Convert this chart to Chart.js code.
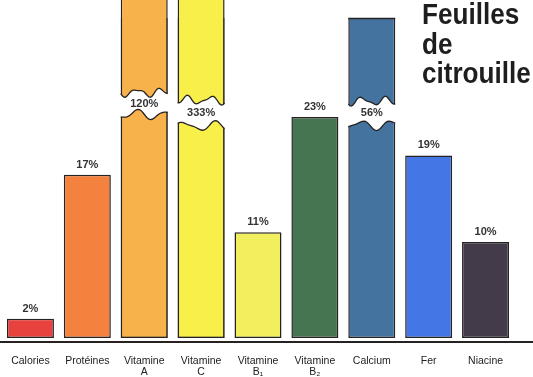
<!DOCTYPE html>
<html>
<head>
<meta charset="utf-8">
<script src="https://cdn.jsdelivr.net/npm/chart.js@4"></script>
<style>
  body { margin: 0; background: #ffffff; }
  #wrap { width: 533px; height: 377px; position: relative; }
</style>
</head>
<body>
<div id="wrap"><canvas id="bars"></canvas></div>
<script>
// data (% of daily needs)
const categories = ["Calories", "Protéines", ["Vitamine", "A"], ["Vitamine", "C"], ["Vitamine", "B₁"], ["Vitamine", "B₂"], "Calcium", "Fer", "Niacine"];
const values = [2, 17, 120, 333, 11, 23, 56, 19, 10];
const bar_colours = ["#e8423f", "#f5813f", "#f7b24b", "#f8ef4a", "#f2ef5e", "#467551", "#44739f", "#4576e6", "#433a4a"];
const title_lines = ["Feuilles", "de", "citrouille"];

const FONT = "'Liberation Sans', Arial, Helvetica, sans-serif";
const INK = "#262222";

// bars that leave the top of the picture (not clipped to the chart area)
const runs_off_top = [false, false, true, true, false, false, false, false, false];

// break marks drawn across the tall bars, centre given in scale units
const breakPlugin = {
  id: "breaks",
  afterDatasetsDraw(chart, args, opts) {
    const ctx = chart.ctx;
    const yScale = chart.scales.y;
    const meta = chart.getDatasetMeta(0);
    const top = chart.chartArea.top;
    ctx.save();
    // top edge for the bar cut at the chart area
    meta.data.forEach((bar, i) => {
      if (values[i] > yScale.max && !runs_off_top[i]) {
        ctx.strokeStyle = INK;
        ctx.lineWidth = 1.5;
        ctx.beginPath();
        ctx.moveTo(bar.x - bar.width / 2, top + 0.5);
        ctx.lineTo(bar.x + bar.width / 2, top + 0.5);
        ctx.stroke();
      }
    });
    opts.cuts.forEach(cut => {
      const bar = meta.data[cut.index];
      const yc = yScale.getPixelForValue(cut.at);
      const x0 = bar.x - bar.width / 2;
      const x1 = bar.x + bar.width / 2;
      const n = 30;
      const upper = t => yc - cut.gap / 2 + 3.5 * Math.sin(t * Math.PI * 4 + cut.ph) + 1.5 * Math.sin(t * Math.PI * 7);
      const lower = t => yc + cut.gap / 2 + 4 * Math.sin(t * Math.PI * 3 + cut.ph + 1.2) - 1.5 * Math.cos(t * Math.PI * 5);
      ctx.fillStyle = "#ffffff";
      ctx.beginPath();
      ctx.moveTo(x0 - 3, upper(0));
      for (let k = 0; k <= n; k++) {
        const t = k / n;
        ctx.lineTo(x0 + (x1 - x0) * t, upper(t));
      }
      ctx.lineTo(x1 + 3, upper(1));
      ctx.lineTo(x1 + 3, lower(1));
      for (let k = n; k >= 0; k--) {
        const t = k / n;
        ctx.lineTo(x0 + (x1 - x0) * t, lower(t));
      }
      ctx.lineTo(x0 - 3, lower(0));
      ctx.closePath();
      ctx.fill();
      ctx.strokeStyle = INK;
      ctx.lineWidth = 1.3;
      [upper, lower].forEach(edge => {
        ctx.beginPath();
        for (let k = 0; k <= n; k++) {
          const t = k / n;
          const px = x0 + (x1 - x0) * t;
          if (k === 0) ctx.moveTo(px, edge(t)); else ctx.lineTo(px, edge(t));
        }
        ctx.stroke();
      });
      ctx.fillStyle = "#333333";
      ctx.font = "bold 11px " + FONT;
      ctx.textAlign = "center";
      ctx.textBaseline = "middle";
      ctx.fillText(values[cut.index] + "%", bar.x, yc);
    });
    ctx.restore();
  }
};

// % labels above the ordinary bars, axis rule and title
const decorPlugin = {
  id: "decor",
  afterDraw(chart) {
    const ctx = chart.ctx;
    const yScale = chart.scales.y;
    const meta = chart.getDatasetMeta(0);
    ctx.save();
    ctx.fillStyle = "#333333";
    ctx.font = "bold 11px " + FONT;
    ctx.textAlign = "center";
    ctx.textBaseline = "middle";
    meta.data.forEach((bar, i) => {
      if (values[i] <= yScale.max) ctx.fillText(values[i] + "%", bar.x, bar.y - 10);
    });

    const yAxis = chart.chartArea.bottom + 4;
    ctx.strokeStyle = INK;
    ctx.lineWidth = 2;
    ctx.beginPath();
    ctx.moveTo(0, yAxis);
    ctx.lineTo(chart.width, yAxis);
    ctx.stroke();

    ctx.fillStyle = "#1f1d1d";
    ctx.font = "bold 29px " + FONT;
    ctx.textAlign = "left";
    ctx.textBaseline = "alphabetic";
    ctx.translate(422, 0);
    ctx.scale(0.9, 1);
    title_lines.forEach((line, k) => ctx.fillText(line, 0, 24 + k * 29.5));
    ctx.restore();
  }
};

const ctx = document.getElementById("bars").getContext("2d");

new Chart(ctx, {
  type: "bar",
  data: {
    labels: categories,
    datasets: [
      {
        data: values,
        backgroundColor: bar_colours,
        borderColor: INK,
        borderWidth: 1.5,
        borderSkipped: false,
        grouped: false,
        barPercentage: 0.826,
        categoryPercentage: 1,
        clip: 0
      },
      {
        data: values.map((v, i) => (runs_off_top[i] ? v : null)),
        backgroundColor: bar_colours,
        borderColor: INK,
        borderWidth: 1.5,
        borderSkipped: false,
        grouped: false,
        barPercentage: 0.826,
        categoryPercentage: 1,
        clip: false
      }
    ]
  },
  options: {
    responsive: true,
    maintainAspectRatio: false,
    animation: false,
    layout: { padding: { top: 18, left: 2, right: 19, bottom: 0 } },
    plugins: {
      legend: { display: false },
      tooltip: { enabled: false },
      breaks: {
        cuts: [
          { index: 2, at: 24.4, gap: 22, ph: 0.3 },
          { index: 3, at: 23.4, gap: 26, ph: 2.2 },
          { index: 6, at: 23.4, gap: 24, ph: 1.0 }
        ]
      }
    },
    scales: {
      x: {
        grid: { display: false, drawTicks: false },
        border: { display: false },
        afterFit: axis => {
          axis.height = 39;
          axis.paddingLeft = 0;
          axis.paddingRight = 0;
        },
        ticks: {
          color: "#222222",
          padding: 18,
          maxRotation: 0,
          autoSkip: false,
          font: { size: 10.5, family: FONT, lineHeight: 1 }
        }
      },
      y: {
        display: false,
        min: 0,
        max: 33.3
      }
    }
  },
  plugins: [breakPlugin, decorPlugin]
});
</script>
</body>
</html>
